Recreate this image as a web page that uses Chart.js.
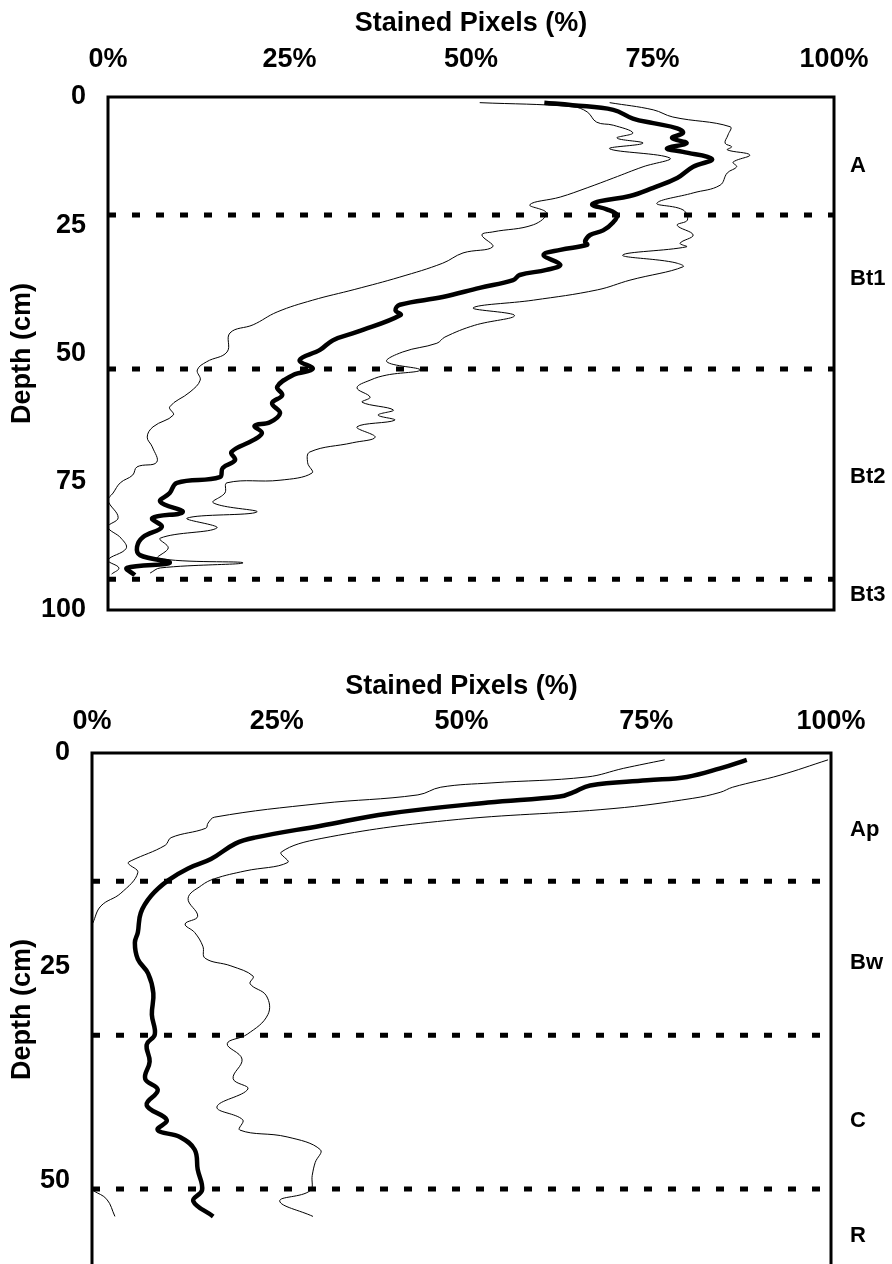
<!DOCTYPE html>
<html>
<head>
<meta charset="utf-8">
<title>Stained pixels by depth</title>
<script src="https://cdn.jsdelivr.net/npm/chart.js@4.4.1/dist/chart.umd.min.js"></script>
<style>
  html, body { margin: 0; padding: 0; background: #fff; overflow: hidden; }
  #wrap { position: relative; width: 892px; height: 1264px; overflow: hidden; }
  canvas { position: absolute; left: 0; }
  #chartTop { top: 0; }
  #chartBottom { top: 640px; }
</style>
</head>
<body>
<div id="wrap">
  <canvas id="chartTop" width="892" height="640"></canvas>
  <canvas id="chartBottom" width="892" height="636"></canvas>
</div>
<script>
// x axis (shared)
const pctTicks = [0, 25, 50, 75, 100];

// ---- upper profile ----
const topDepthTicks = [0, 25, 50, 75, 100];
const topHorizonNames = ['A', 'Bt1', 'Bt2', 'Bt3'];
const topHorizonLabelDepth = [13.5, 35.5, 74, 97];
const topBoundaries = [23, 53, 94];

const topMeanDepth = [1.1, 1.6, 2.5, 4.2, 5.1, 6.1, 7.0, 8.0, 9.0, 10.0, 10.7, 12.1, 13.6, 15.8, 17.7, 19.3, 20.3, 21.0, 21.9, 23.0,
  24.4, 26.0, 26.9, 28.2, 28.8, 29.8, 30.8, 32.7, 33.7, 34.7, 35.7, 37.2, 39.0, 40.5, 41.6, 42.5, 45.8, 47.4, 49.3, 51.3,
  53.0, 54.2, 56.5, 58.1, 59.7, 61.6, 63.4, 64.1, 65.5, 66.9, 69.2, 70.8, 72.3, 74.1, 75.2, 77.2, 78.9, 80.9, 82.1, 83.8,
  85.8, 87.7, 89.3, 90.8, 91.8, 93.2];
const topMeanPct = [60.1, 64.0, 69.6, 72.3, 75.1, 78.4, 79.2, 77.7, 79.7, 77.0, 79.2, 83.2, 80.6, 78.4, 75.1, 71.9, 67.8, 66.7, 68.7, 70.1,
  69.6, 68.2, 66.4, 65.7, 66.0, 62.3, 60.0, 62.3, 60.4, 56.7, 55.8, 51.2, 46.1, 40.2, 39.6, 40.3, 34.3, 31.0, 29.2, 26.4,
  28.2, 25.5, 23.3, 24.0, 22.6, 23.7, 22.3, 20.2, 21.2, 20.0, 17.0, 17.5, 15.8, 15.4, 9.5, 8.5, 7.2, 10.3, 6.1, 7.4,
  4.8, 4.0, 4.4, 8.5, 2.6, 3.7];

const topLowDepth = [1.1, 1.9, 2.9, 4.9, 5.5, 7.0, 8.0, 9.0, 10.1, 11.9, 13.6, 15.8, 17.7, 19.5, 21.0, 22.6, 24.9, 26.3, 26.9, 29.2,
  30.4, 32.4, 35.1, 37.5, 39.6, 41.9, 44.4, 46.0, 49.7, 51.6, 53.2, 55.2, 57.5, 60.4, 62.0, 64.3, 66.3, 68.2, 71.2, 72.1,
  73.7, 75.2, 77.2, 78.6, 82.0, 83.8, 86.0, 88.0, 90.3, 91.8, 93.0];
const topLowPct = [51.2, 64.0, 66.0, 67.3, 69.6, 72.3, 70.1, 73.7, 69.1, 77.4, 73.7, 69.6, 66.0, 62.3, 58.1, 60.4, 58.6, 53.0, 51.5, 53.0,
  48.9, 46.1, 40.2, 34.0, 28.2, 23.3, 20.0, 16.8, 16.4, 13.6, 12.3, 12.7, 11.3, 8.5, 9.0, 6.2, 5.4, 6.1, 6.7, 4.0,
  3.4, 1.7, 0.7, 0.0, 1.4, 0.0, 1.8, 2.5, 0.0, 1.5, 0.5];

const topHighDepth = [1.1, 2.5, 3.9, 5.8, 7.4, 9.0, 9.7, 10.3, 11.3, 12.7, 13.6, 14.8, 17.2, 18.7, 20.7, 22.0, 24.0, 25.0, 26.9, 28.5,
  29.2, 30.8, 32.2, 33.1, 35.7, 37.6, 39.6, 41.1, 42.6, 44.5, 46.8, 48.0, 49.7, 51.6, 53.2, 54.2, 55.2, 56.7, 58.5, 59.5,
  61.0, 62.0, 63.0, 64.3, 66.3, 67.4, 69.2, 71.3, 73.3, 74.7, 75.2, 77.2, 79.1, 80.9, 82.1, 84.0, 86.0, 87.9, 89.9, 90.8,
  91.8, 92.8];
const topHighPct = [69.1, 75.1, 77.8, 85.7, 85.4, 85.0, 85.9, 85.3, 88.4, 86.1, 86.6, 85.3, 84.3, 80.6, 75.6, 79.2, 79.8, 78.4, 80.6, 78.8,
  79.7, 70.9, 77.8, 79.2, 71.9, 67.4, 58.6, 50.3, 56.0, 50.5, 46.4, 45.3, 40.6, 38.4, 43.0, 38.4, 36.1, 34.3, 36.1, 35.0,
  39.3, 37.2, 39.5, 34.3, 36.8, 33.7, 27.8, 27.5, 28.1, 23.7, 16.4, 16.1, 14.5, 20.5, 10.9, 15.0, 7.2, 8.3, 6.9, 18.6,
  7.2, 5.8];

// ---- lower profile ----
const bottomDepthTicks = [0, 25, 50];
const bottomHorizonNames = ['Ap', 'Bw', 'C', 'R'];
const bottomHorizonLabelDepth = [9, 24.5, 43, 56.5];
const bottomBoundaries = [15, 33, 51];

const bottomMeanDepth = [0.8, 1.8, 2.8, 3.2, 3.8, 4.6, 5.1, 5.8, 7.1, 8.5, 9.9, 10.6, 12.4, 13.5, 14.9, 16.7, 18.7, 21.0, 22.2, 24.1,
  25.8, 28.1, 30.6, 32.9, 34.1, 36.1, 38.1, 39.4, 41.2, 42.9, 44.1, 44.9, 46.4, 48.7, 51.1, 52.4, 54.2];
const bottomMeanPct = [88.6, 85.0, 80.5, 75.1, 67.4, 65.1, 63.3, 53.6, 40.0, 31.0, 22.0, 19.4, 16.1, 13.0, 10.3, 8.0, 6.6, 6.2, 5.8, 6.2,
  7.6, 8.3, 8.1, 8.5, 7.4, 7.8, 7.2, 8.9, 7.4, 10.1, 8.9, 11.9, 13.9, 14.3, 14.9, 13.7, 16.4];

// left curve leaves the plot at 0 % and comes back near 51 cm
const bottomLowDepth = [0.8, 1.8, 2.8, 3.5, 4.0, 4.9, 5.9, 7.5, 8.2, 8.8, 9.9, 10.8, 12.6, 12.9, 14.0, 16.4, 17.9, 19.9,
  35, 51.2, 52.2, 54.2];
const bottomLowPct = [77.5, 71.9, 67.0, 54.0, 47.2, 44.1, 31.0, 16.6, 15.7, 15.4, 10.7, 9.9, 5.3, 4.9, 6.2, 3.9, 1.2, 0.1,
  null, 0.2, 2.0, 3.1];

const bottomHighDepth = [0.8, 2.6, 4.0, 4.6, 5.3, 6.5, 7.9, 10.0, 11.6, 12.8, 13.8, 14.7, 15.5, 17.0, 19.1, 20.0, 21.0, 22.6, 24.0, 24.9,
  26.1, 27.0, 28.4, 30.6, 32.9, 34.0, 35.8, 38.1, 39.3, 41.4, 42.9, 44.1, 44.9, 46.4, 47.9, 49.4, 51.2, 52.4, 54.2];
const bottomHighPct = [99.6, 93.1, 86.7, 85.0, 81.3, 70.5, 48.0, 31.0, 25.6, 26.5, 20.7, 16.6, 14.8, 13.0, 14.3, 12.6, 13.9, 15.0, 15.3, 18.8,
  21.8, 21.4, 23.6, 23.8, 21.0, 18.3, 20.3, 19.1, 21.1, 16.9, 20.4, 20.0, 26.4, 30.9, 30.2, 29.8, 29.5, 25.4, 29.9];

const FONT = '"Liberation Sans", Arial, sans-serif';
const AXIS_FONT = { size: 27, weight: 'bold' };
Chart.defaults.font.family = FONT;
Chart.defaults.color = '#000';

const points = (depths, values) => depths.map((d, i) => ({ x: values[i], y: d }));

// plot frame + horizon names in the right margin
const profileDecor = {
  id: 'profileDecor',
  afterDraw(chart, args, opts) {
    const { ctx, chartArea: a, scales } = chart;
    ctx.save();
    ctx.strokeStyle = '#000';
    ctx.lineWidth = 3;
    ctx.strokeRect(a.left, a.top, a.right - a.left, a.bottom - a.top);
    ctx.fillStyle = '#000';
    ctx.font = 'bold 22px ' + FONT;
    ctx.textAlign = 'left';
    ctx.textBaseline = 'middle';
    opts.names.forEach((n, i) => {
      ctx.fillText(n, a.right + opts.gap, scales.y.getPixelForValue(opts.depths[i]));
    });
    ctx.restore();
  }
};

function profileChart(id, cfg) {
  const curve = (pts, w) => ({
    data: pts, showLine: true, borderColor: '#000', borderWidth: w,
    pointRadius: 0, tension: 0.4, spanGaps: false
  });
  const boundary = d => ({
    data: [{ x: 0, y: d }, { x: 100, y: d }], showLine: true, borderColor: '#000',
    borderWidth: 5, borderDash: [8, 16], borderCapStyle: 'butt', pointRadius: 0, tension: 0
  });

  const datasets = [
    curve(points(cfg.lowDepth, cfg.lowPct), 1),
    curve(points(cfg.highDepth, cfg.highPct), 1),
    curve(points(cfg.meanDepth, cfg.meanPct), 4.5),
    ...cfg.boundaries.map(boundary)
  ];

  return new Chart(document.getElementById(id), {
    type: 'scatter',
    data: { datasets },
    options: {
      responsive: false,
      animation: false,
      events: [],
      layout: { padding: { left: 0, top: 0, right: cfg.padRight, bottom: cfg.padBottom } },
      plugins: {
        legend: { display: false },
        tooltip: { enabled: false },
        profileDecor: { names: cfg.names, depths: cfg.labelDepths, gap: cfg.labelGap }
      },
      scales: {
        x: {
          type: 'linear', position: 'top', min: 0, max: 100,
          afterBuildTicks: s => { s.ticks = pctTicks.map(v => ({ value: v })); },
          afterFit: s => { s.height = cfg.axisHeight; s.paddingLeft = 0; s.paddingRight = 0; },
          ticks: { callback: v => v + '%', font: AXIS_FONT, padding: cfg.xTickPad, maxRotation: 0 },
          grid: { display: false, drawTicks: false },
          border: { display: false },
          title: { display: true, text: 'Stained Pixels (%)', font: AXIS_FONT, padding: { top: cfg.titlePad, bottom: 0 } }
        },
        y: {
          type: 'linear', reverse: true, min: 0, max: cfg.depthMax,
          afterBuildTicks: s => { s.ticks = cfg.depthTicks.map(v => ({ value: v })); },
          // fixed width; drop the label overhang so the plot keeps its full height
          afterFit: s => { s.width = cfg.axisWidth; s.paddingTop = 0; s.paddingBottom = 0; },
          ticks: { font: AXIS_FONT, padding: 22 },
          grid: { display: false, drawTicks: false },
          border: { display: false },
          title: { display: true, text: 'Depth (cm)', font: AXIS_FONT, padding: { top: 6, bottom: 0 } }
        }
      }
    },
    plugins: [profileDecor]
  });
}

document.addEventListener('DOMContentLoaded', () => {
  profileChart('chartTop', {
    lowDepth: topLowDepth, lowPct: topLowPct,
    highDepth: topHighDepth, highPct: topHighPct,
    meanDepth: topMeanDepth, meanPct: topMeanPct,
    boundaries: topBoundaries,
    names: topHorizonNames, labelDepths: topHorizonLabelDepth, labelGap: 16,
    depthTicks: topDepthTicks, depthMax: 100,
    axisHeight: 97, axisWidth: 108, padRight: 58, padBottom: 30,
    xTickPad: 21, titlePad: 7
  });

  profileChart('chartBottom', {
    lowDepth: bottomLowDepth, lowPct: bottomLowPct,
    highDepth: bottomHighDepth, highPct: bottomHighPct,
    meanDepth: bottomMeanDepth, meanPct: bottomMeanPct,
    boundaries: bottomBoundaries,
    names: bottomHorizonNames, labelDepths: bottomHorizonLabelDepth, labelGap: 19,
    depthTicks: bottomDepthTicks, depthMax: 60,
    axisHeight: 113, axisWidth: 92, padRight: 61, padBottom: 10,
    xTickPad: 15, titlePad: 30
  });
});
</script>
</body>
</html>
